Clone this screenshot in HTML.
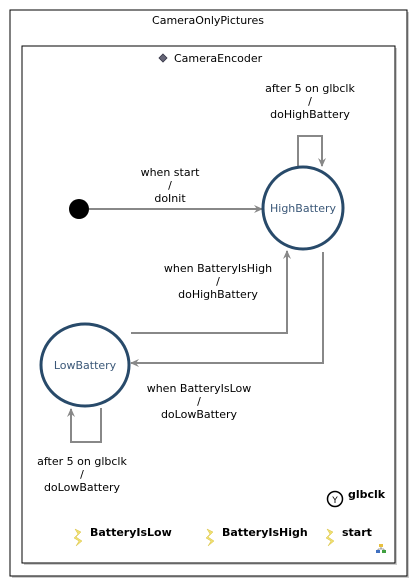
<!DOCTYPE html>
<html><head><style>
body{margin:0;background:#fff;}
svg{display:block;font-family:"DejaVu Sans","Liberation Sans",sans-serif;}
</style></head><body>
<svg width="419" height="587" viewBox="0 0 419 587">
<defs><marker id="a" markerWidth="10" markerHeight="10" refX="8" refY="4" orient="auto" markerUnits="userSpaceOnUse"><path d="M0,0 L9,4 L0,8 L3,4 Z" fill="#888"/></marker></defs>
<rect x="12" y="12" width="397" height="566" fill="#ccc"/>
<rect x="10" y="10" width="397" height="566" fill="#fff" stroke="#000" stroke-width="1"/>
<text x="208" y="24" font-size="11" text-anchor="middle">CameraOnlyPictures</text>
<rect x="24" y="48" width="373" height="517" fill="#ccc"/>
<rect x="22" y="46" width="373" height="517" fill="#fff" stroke="#000" stroke-width="1"/>
<path d="M163,54 L167,58 L163,62 L159,58 Z" fill="#667" stroke="#334" stroke-width="0.8"/>
<text x="174" y="62" font-size="11">CameraEncoder</text>
<g stroke="#888" stroke-width="2" fill="none">
<line x1="89" y1="209" x2="262" y2="209" marker-end="url(#a)"/>
<polyline points="298,168 298,136 322,136 322,166" marker-end="url(#a)"/>
<polyline points="131,333 287,333 287,251" marker-end="url(#a)"/>
<polyline points="323,252 323,363 131,363" marker-end="url(#a)"/>
<polyline points="101,408 101,442 71,442 71,409" marker-end="url(#a)"/>
</g>
<circle cx="79" cy="209" r="10" fill="#000"/>
<ellipse cx="303" cy="208" rx="40" ry="41" fill="#fff" stroke="#284a6a" stroke-width="3"/>
<ellipse cx="85" cy="365" rx="44" ry="41" fill="#fff" stroke="#284a6a" stroke-width="3"/>
<text x="303" y="212" font-size="11" fill="#3b5878" text-anchor="middle">HighBattery</text>
<text x="85" y="369" font-size="11" fill="#3b5878" text-anchor="middle">LowBattery</text>
<g font-size="11" text-anchor="middle">
<text x="170" y="176">when start</text><text x="170" y="189">/</text><text x="170" y="202">doInit</text>
<text x="310" y="92">after 5 on glbclk</text><text x="310" y="105">/</text><text x="310" y="118">doHighBattery</text>
<text x="218" y="272">when BatteryIsHigh</text><text x="218" y="285">/</text><text x="218" y="298">doHighBattery</text>
<text x="199" y="392">when BatteryIsLow</text><text x="199" y="405">/</text><text x="199" y="418">doLowBattery</text>
<text x="82" y="465">after 5 on glbclk</text><text x="82" y="478">/</text><text x="82" y="491">doLowBattery</text>
</g>
<circle cx="335" cy="499" r="7.5" fill="#fff" stroke="#000" stroke-width="1.5"/>
<text x="335" y="503" font-size="9" text-anchor="middle">Y</text>
<text x="348" y="498" font-size="11" font-weight="bold">glbclk</text>
<g fill="#f0e070" stroke="#d8c040" stroke-width="0.5">
<path d="M75,529 L81,532 L76,537 L82,541 L76,546 L79,541 L74,538 L78,534 Z"/>
<path d="M207,529 L213,532 L208,537 L214,541 L208,546 L211,541 L206,538 L210,534 Z"/>
<path d="M327,529 L333,532 L328,537 L334,541 L328,546 L331,541 L326,538 L330,534 Z"/>
</g>
<g font-size="11" font-weight="bold">
<text x="90" y="536">BatteryIsLow</text>
<text x="222" y="536">BatteryIsHigh</text>
<text x="342" y="536">start</text>
</g>
<rect x="379" y="544" width="4" height="3" fill="#e8c040"/>
<rect x="376" y="550" width="4" height="3" fill="#4070c0"/>
<rect x="382" y="550" width="4" height="3" fill="#40a040"/>
<path d="M381,547 V549 M378,549 H384 M378,549 V550 M384,549 V550" stroke="#555" stroke-width="0.6"/>
</svg>
</body></html>
